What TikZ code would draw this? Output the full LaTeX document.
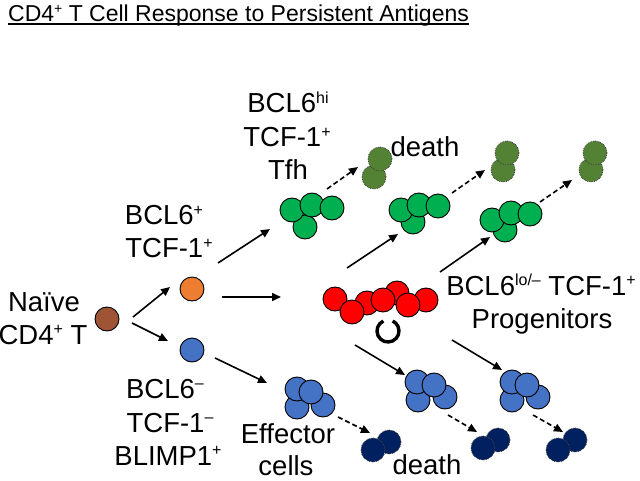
\documentclass[tikz,border=0pt]{standalone}
\usepackage{fontspec}
\setmainfont{Liberation Sans}
\usetikzlibrary{arrows.meta}
\definecolor{cbrown}{RGB}{160,84,54}
\definecolor{corange}{RGB}{237,125,49}
\definecolor{cblue}{RGB}{68,114,196}
\definecolor{cgreen}{RGB}{0,176,80}
\definecolor{colive}{RGB}{84,130,53}
\definecolor{cnavy}{RGB}{0,32,96}
\definecolor{cred}{RGB}{255,0,0}
\newcommand\sups[1]{\raisebox{0.36em}{\fontsize{16}{16}\selectfont #1}}
\newcommand\tsups[1]{\raisebox{0.36em}{\fontsize{14}{14}\selectfont #1}}
\tikzset{
  cell/.style={circle,draw=black,line width=0.9pt,minimum size=24pt,inner sep=0pt},
  deadcell/.style={circle,draw=black!75,densely dotted,line width=0.8pt,minimum size=24pt,inner sep=0pt},
  lbl/.style={anchor=base,inner sep=0pt,font=\fontsize{27.5}{32}\selectfont},
  arr/.style={line width=1.6pt,-{Triangle[length=9pt,width=8pt]}},
  darr/.style={line width=1.6pt,dash pattern=on 5pt off 3pt,-{Triangle[length=9pt,width=8pt]}},
}
\begin{document}
\begin{tikzpicture}[x=1pt,y=-1pt]
\useasboundingbox (0,0) rectangle (640,481);
% title
\node[anchor=base west,inner sep=0pt,font=\fontsize{23}{27}\selectfont] (title) at (8,21.7) {CD4\tsups{+} T Cell Response to Persistent Antigens};
\draw[line width=1.8pt] (title.base west) ++(0,2.6) coordinate (ul1) -- (title.base east |- ul1);
% naive and first split
\node[cell,fill=cbrown] (naive) at (107,319) {};
\node[cell,fill=corange] (orange) at (192,289) {};
\node[cell,fill=cblue] (blue) at (192,350) {};
\node[lbl] (n1) at (44,311) {Naïve};
\node[lbl] (n2) at (43,344) {CD4\sups{+} T};
\node[lbl] (o1) at (164,225) {BCL6\sups{+}};
\node[lbl] (o2) at (169,258) {TCF-1\sups{+}};
\node[lbl] (b1) at (165,398) {BCL6\sups{–}};
\node[lbl] (b2) at (170,432) {TCF-1\sups{–}};
\node[lbl] (b3) at (168,465) {BLIMP1\sups{+}};
% Tfh label
\node[lbl] (t1) at (288,113) {BCL6\sups{hi}};
\node[lbl] (t2) at (287,147) {TCF-1\sups{+}};
\node[lbl] (t3) at (288,180) {Tfh};
\node[lbl] (death1) at (425,157) {death};
\node[lbl] (p1) at (541,295) {BCL6\sups{lo/–} TCF-1\sups{+}};
\node[lbl] (p2) at (542,328) {Progenitors};
\node[lbl] (e1) at (288,443) {Effector};
\node[lbl] (e2) at (286,475) {cells};
\node[lbl] (death2) at (427,474.5) {death};
% green clusters
\node[cell,fill=cgreen] (g1d) at (305,227) {};
\node[cell,fill=cgreen] (g1a) at (292,210) {};
\node[cell,fill=cgreen] (g1b) at (312,205) {};
\node[cell,fill=cgreen] (g1c) at (332,208) {};
\node[cell,fill=cgreen] (g2d) at (413,222) {};
\node[cell,fill=cgreen] (g2a) at (401,210) {};
\node[cell,fill=cgreen] (g2b) at (419,205) {};
\node[cell,fill=cgreen] (g2c) at (438,206) {};
\node[cell,fill=cgreen] (g3d) at (505,230) {};
\node[cell,fill=cgreen] (g3a) at (492,220) {};
\node[cell,fill=cgreen] (g3b) at (511,213) {};
\node[cell,fill=cgreen] (g3c) at (530,214) {};
% olive dead cells
\node[deadcell,fill=colive] (o1b) at (374,177) {};
\node[deadcell,fill=colive] (o1a) at (380,159) {};
\node[deadcell,fill=colive] (o2b) at (503,170) {};
\node[deadcell,fill=colive] (o2a) at (507,153) {};
\node[deadcell,fill=colive] (o3b) at (591,170) {};
\node[deadcell,fill=colive] (o3a) at (595,153) {};
% red progenitors
\node[cell,fill=cred] (r1) at (335,299) {};
\node[cell,fill=cred] (r3) at (367,303) {};
\node[cell,fill=cred] (r5) at (397,293) {};
\node[cell,fill=cred] (r7) at (426,300) {};
\node[cell,fill=cred] (r2) at (352,312) {};
\node[cell,fill=cred] (r4) at (383,300) {};
\node[cell,fill=cred] (r6) at (408,305) {};
\coordinate (sr) at (388,331);
\draw[line width=3.4pt] ([shift={(115:11pt)}]sr) arc[start angle=115,end angle=425,radius=11pt];
% blue clusters
\node[cell,fill=cblue] (e1c) at (297,407) {};
\node[cell,fill=cblue] (e1d) at (323,405) {};
\node[cell,fill=cblue] (e1a) at (297,389) {};
\node[cell,fill=cblue] (e1b) at (311,392) {};
\node[cell,fill=cblue] (bl2c) at (418,400) {};
\node[cell,fill=cblue] (bl2d) at (445,397) {};
\node[cell,fill=cblue] (bl2a) at (417,382) {};
\node[cell,fill=cblue] (bl2b) at (434,385) {};
\node[cell,fill=cblue] (bl3c) at (512,400) {};
\node[cell,fill=cblue] (bl3d) at (538,397) {};
\node[cell,fill=cblue] (bl3a) at (512,382) {};
\node[cell,fill=cblue] (bl3b) at (527,385) {};
% navy dead cells
\node[deadcell,fill=cnavy] (nv1b) at (389,442) {};
\node[deadcell,fill=cnavy] (nv1a) at (373,450) {};
\node[deadcell,fill=cnavy] (nv2b) at (498,440) {};
\node[deadcell,fill=cnavy] (nv2a) at (483,448) {};
\node[deadcell,fill=cnavy] (nv3b) at (575,440) {};
\node[deadcell,fill=cnavy] (nv3a) at (558,450) {};
% arrow end points
\coordinate (a1s) at (133,317); \coordinate (a1e) at (170,287);
\coordinate (a2s) at (132,323); \coordinate (a2e) at (168,341);
\coordinate (a3s) at (218,263); \coordinate (a3e) at (270,229);
\coordinate (a4s) at (222,297); \coordinate (a4e) at (281,297);
\coordinate (a5s) at (215,358); \coordinate (a5e) at (267,383);
\coordinate (a6s) at (347,268); \coordinate (a6e) at (398,234);
\coordinate (a7s) at (440,272); \coordinate (a7e) at (490,237);
\coordinate (a8s) at (355,345); \coordinate (a8e) at (405,375);
\coordinate (a9s) at (452,340); \coordinate (a9e) at (502,370);
\coordinate (d1s) at (327,189); \coordinate (d1e) at (358,167);
\coordinate (d2s) at (452,193); \coordinate (d2e) at (485,170);
\coordinate (d3s) at (540,202); \coordinate (d3e) at (572,180);
\coordinate (d4s) at (338,417); \coordinate (d4e) at (370,433);
\coordinate (d5s) at (448,415); \coordinate (d5e) at (477,432);
\coordinate (d6s) at (533,415); \coordinate (d6e) at (563,432);
\foreach \i in {1,...,9} {\draw[arr] (a\i s) -- (a\i e);}
\foreach \i in {1,...,6} {\draw[darr] (d\i s) -- (d\i e);}
\end{tikzpicture}
\end{document}
